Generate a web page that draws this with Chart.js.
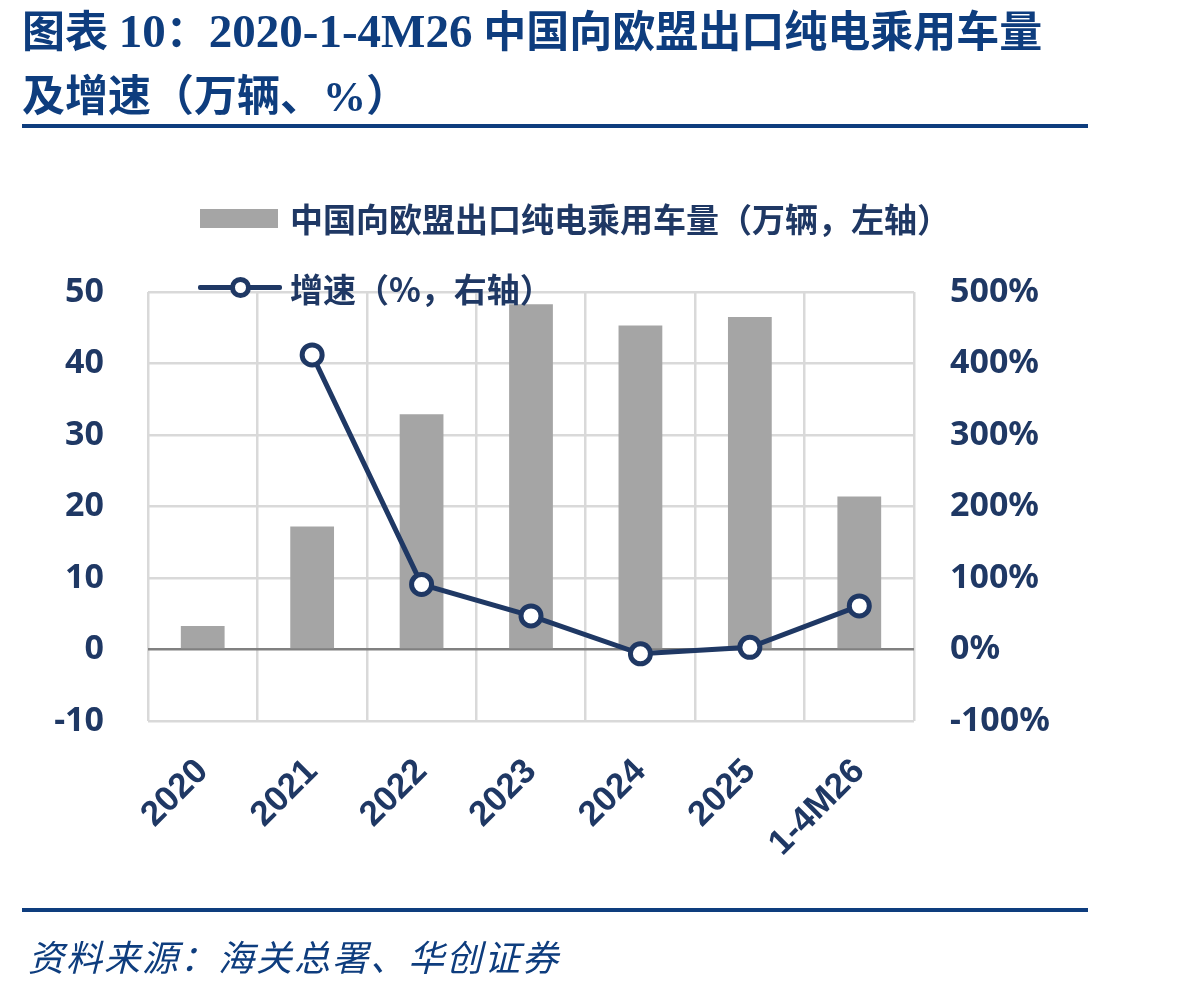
<!DOCTYPE html>
<html><head><meta charset="utf-8">
<script src="https://cdn.jsdelivr.net/npm/chart.js@4.4.0/dist/chart.umd.min.js"></script>
<style>
html,body{margin:0;padding:0;background:#fff;}
#wrap{position:relative;width:1198px;height:986px;overflow:hidden;background:#fff;}
#c{position:absolute;left:0;top:0;}
.title{position:absolute;left:22px;top:-1px;font-weight:bold;font-size:43px;line-height:64px;font-family:"Liberation Serif","Noto Sans CJK SC",serif;color:#0E3D7E;white-space:nowrap;}
.title .n{font-size:47px;}
.rule{position:absolute;left:22px;width:1066px;height:4px;background:#0E3D7E;}
.src{position:absolute;left:28px;top:932px;font-size:36px;letter-spacing:2px;line-height:46px;font-style:italic;font-family:"Noto Sans CJK SC",sans-serif;color:#0E3D7E;white-space:nowrap;}
.lg{position:absolute;font-weight:bold;font-size:33px;line-height:44px;font-family:"Noto Sans CJK SC",sans-serif;color:#1F3864;white-space:nowrap;}
.sw{position:absolute;left:200px;top:209px;width:78px;height:19px;background:#A5A5A5;}
.ln{position:absolute;left:198px;top:285px;width:84px;height:5px;background:#1F3864;border-radius:2px;}
.pt{position:absolute;left:230px;top:277px;width:11px;height:11px;border:5px solid #1F3864;border-radius:50%;background:#fff;}
</style></head>
<body><div id="wrap">
<canvas id="c" width="1198" height="986"></canvas>
<div class="title">图表 <span class="n">10</span>：<span class="n">2020-1-4M26</span> 中国向欧盟出口纯电乘用车量<br>及增速（万辆、%）</div>
<div class="rule" style="top:124px"></div>
<div class="rule" style="top:908px"></div>
<div class="src">资料来源：海关总署、华创证券</div>
<div class="sw"></div>
<div class="lg" style="left:290px;top:196px">中国向欧盟出口纯电乘用车量（万辆，左轴）</div>
<div class="ln"></div><div class="pt"></div>
<div class="lg" style="left:290px;top:266px">增速（%，右轴）</div>
</div>
<script>
const categories = ['2020','2021','2022','2023','2024','2025','1-4M26'];
const exportVolume = [3.3, 17.2, 32.9, 48.3, 45.3, 46.5, 21.4];
const growthRate = [null, 412, 91, 47, -6, 3, 61];
const leftTickValues = [-10, 0, 10, 20, 30, 40, 50];
const rightTickValues = [-100, 0, 100, 200, 300, 400, 500];

const navy = '#1F3864';
const tickFont = {family: '"Noto Sans","Open Sans",sans-serif', size: 34, weight: 'bold'};
const xFont = {family: '"Liberation Sans",Arial,sans-serif', size: 35, weight: 'bold'};

new Chart(document.getElementById('c'), {
  data: {
    labels: categories,
    datasets: [
      {type: 'line', label: '增速（%，右轴）', data: growthRate, yAxisID: 'y1', order: 0,
       borderColor: navy, borderWidth: 5, pointRadius: 10, pointBorderWidth: 5,
       pointBackgroundColor: '#fff', pointBorderColor: navy, tension: 0},
      {type: 'bar', label: '中国向欧盟出口纯电乘用车量（万辆，左轴）', data: exportVolume, yAxisID: 'y', order: 1,
       backgroundColor: '#A5A5A5', barPercentage: 0.8, categoryPercentage: 0.5}
    ]
  },
  options: {
    responsive: false, animation: false,
    layout: {padding: {left: 0, right: 0, top: 292, bottom: 115}},
    plugins: {legend: {display: false}, tooltip: {enabled: false}},
    scales: {
      x: {
        offset: true,
        grid: {offset: true, color: '#D9D9D9', lineWidth: 2.5, drawTicks: false},
        border: {display: false},
        ticks: {color: navy, font: xFont, minRotation: 45, maxRotation: 45, padding: 30, autoSkip: false},
        afterFit: s => { s.height = 150; }
      },
      y: {
        position: 'left', min: -10, max: 50,
        afterBuildTicks: s => { s.ticks = leftTickValues.map(v => ({value: v})); },
        grid: {color: c => c.tick && c.tick.value === 0 ? '#808080' : '#D9D9D9', lineWidth: 2.5, drawTicks: false},
        border: {display: false},
        ticks: {color: navy, font: tickFont, padding: 44},
        afterFit: s => { s.width = 148; }
      },
      y1: {
        position: 'right', min: -100, max: 500,
        afterBuildTicks: s => { s.ticks = rightTickValues.map(v => ({value: v})); },
        grid: {drawOnChartArea: false, drawTicks: false},
        border: {display: false},
        ticks: {color: navy, font: tickFont, padding: 36, callback: v => v + '%'},
        afterFit: s => { s.width = 1198 - 914; }
      }
    }
  }
});
</script>
</body></html>
